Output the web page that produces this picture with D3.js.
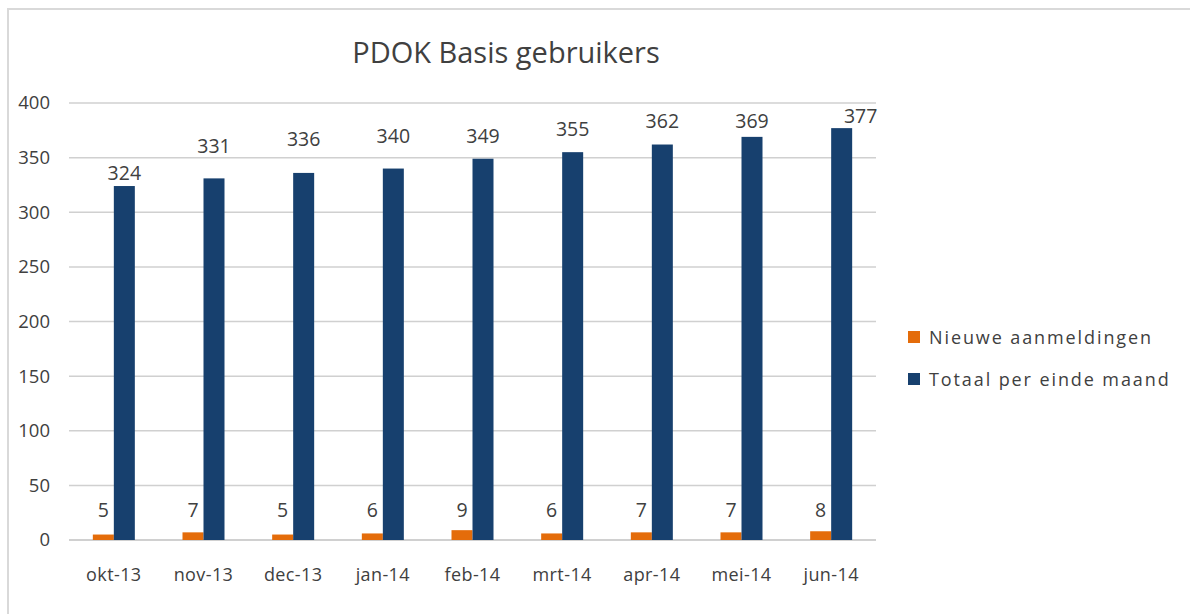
<!DOCTYPE html>
<html lang="nl">
<head>
    <meta charset="UTF-8">
    <title>PDOK Basis gebruikers</title>
    <script src="https://cdn.jsdelivr.net/npm/d3@7"></script>
    <style>
        body{ margin:0; background:#fff; }
        text{ font-family: "Open Sans", sans-serif; fill:#404040; }
    </style>
</head>
<body>
<div class="container"></div>
<script>
    ////////////////////////////////////////////////////////////////
    /*                         Data                               */
    ////////////////////////////////////////////////////////////////
    const months = ["okt-13","nov-13","dec-13","jan-14","feb-14","mrt-14","apr-14","mei-14","jun-14"]
    const nieuwe = [5,7,5,6,9,6,7,7,8]
    const totaal = [324,331,336,340,349,355,362,369,377]
    const seriesNames = ["Nieuwe aanmeldingen","Totaal per einde maand"]
    const yTicks = [0,50,100,150,200,250,300,350,400]

    ////////////////////////////////////////////////////////////////
    /*                   Containers and scales                    */
    ////////////////////////////////////////////////////////////////
    const colors = ["#E46C0A","#17406E"]
    const W = 1190, H = 614
    const svg = d3.select('.container').append("svg")
        .attr("width",W).attr("height",H)

    // chart frame
    svg.append("rect")
        .attr("x",8).attr("y",9).attr("width",W+10).attr("height",H+10)
        .attr("fill","none").attr("stroke","#d9d9d9").attr("stroke-width",2)

    svg.append("text")
        .attr("x",506).attr("y",63)
        .attr("text-anchor","middle")
        .style("font-size","29px")
        .text("PDOK Basis gebruikers")

    const x = d3.scaleBand().domain(months).range([69,876])
    const x1 = d3.scaleBand().domain([0,1])
        .range([x.bandwidth()/2-21, x.bandwidth()/2+21])
    const y = d3.scaleLinear().domain([0,400]).range([540,103])

    // gridlines
    svg.append("g").selectAll("line")
        .data(yTicks)
        .join("line")
        .attr("x1",69).attr("x2",876)
        .attr("y1",d=>y(d)).attr("y2",d=>y(d))
        .attr("stroke","#d0d0d0").attr("stroke-width",d=>d===0?2:1.5)

    // y labels
    svg.append("g").selectAll("text")
        .data(yTicks)
        .join("text")
        .attr("x",50).attr("y",d=>y(d))
        .attr("dy","0.35em")
        .attr("text-anchor","end")
        .style("font-size","18.5px")
        .text(d=>d)

    // x labels
    svg.append("g").selectAll("text")
        .data(months)
        .join("text")
        .attr("x",d=>x(d)+x.bandwidth()/2)
        .attr("y",575)
        .attr("dy","0.35em")
        .attr("text-anchor","middle")
        .style("font-size","18px")
        .style("letter-spacing","0.4px")
        .text(d=>d)

    ////////////////////////////////////////////////////////////////
    /*                          Bars                              */
    ////////////////////////////////////////////////////////////////
    const series = [nieuwe, totaal]
    series.forEach((vals,s)=>{
        svg.append("g").selectAll("rect")
            .data(vals)
            .join("rect")
            .attr("x",(d,i)=>x(months[i])+x1(s))
            .attr("y",d=>y(d))
            .attr("width",x1.bandwidth())
            .attr("height",d=>y(0)-y(d))
            .attr("fill",colors[s])
    })

    // value labels (excel had them nudged by hand; lift in px above the bar top)
    const totaalLift = [13,32,34,32,23,23,23,16,12]
    const totaalShift = [0,0,0,0,0,0,0,0,19]
    svg.append("g").selectAll("text")
        .data(totaal)
        .join("text")
        .attr("x",(d,i)=>x(months[i])+x1(1)+x1.bandwidth()/2+totaalShift[i])
        .attr("y",(d,i)=>y(d)-totaalLift[i])
        .attr("dy","0.35em")
        .attr("text-anchor","middle")
        .style("font-size","19.5px")
        .text(d=>d)

    svg.append("g").selectAll("text")
        .data(nieuwe)
        .join("text")
        .attr("x",(d,i)=>x(months[i])+x1(0)+x1.bandwidth()/2)
        .attr("y",510)
        .attr("dy","0.35em")
        .attr("text-anchor","middle")
        .style("font-size","19.5px")
        .text(d=>d)

    ////////////////////////////////////////////////////////////////
    /*                         Legend                             */
    ////////////////////////////////////////////////////////////////
    const legend = svg.append("g").selectAll("g")
        .data(seriesNames)
        .join("g")
        .attr("transform",(d,i)=>`translate(908,${331+i*42})`)
    legend.append("rect")
        .attr("width",12).attr("height",12)
        .attr("fill",(d,i)=>colors[i])
    legend.append("text")
        .attr("x",21).attr("y",7)
        .attr("dy","0.35em")
        .style("font-size","18px")
        .style("letter-spacing","1.9px")
        .text(d=>d)
</script>
</body>
</html>
